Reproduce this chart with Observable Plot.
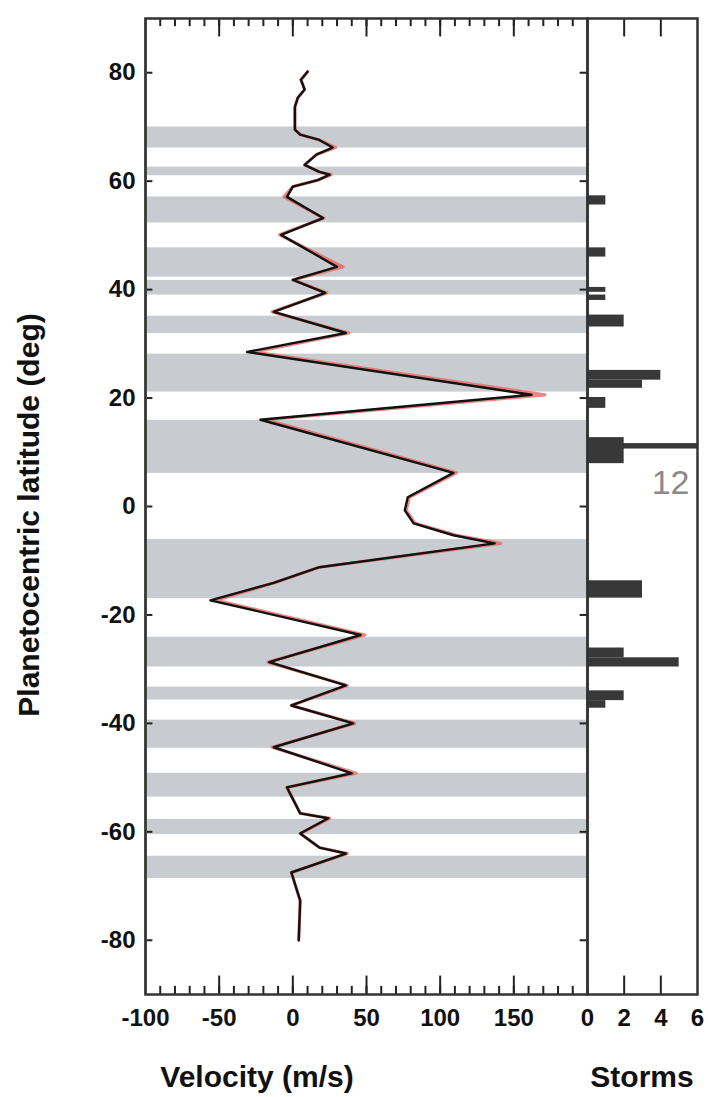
<!DOCTYPE html>
<html><head><meta charset="utf-8">
<script src="https://cdn.jsdelivr.net/npm/d3@7"></script>
<script src="https://cdn.jsdelivr.net/npm/@observablehq/plot@0.6"></script>
<style>
html,body{margin:0;padding:0;background:#fff;}
#wrap{position:relative;width:708px;height:1097px;overflow:hidden;background:#fff;font-family:"Liberation Sans",Arial,sans-serif;}
#wrap svg{position:absolute;left:0;top:0;}
.title{position:absolute;font-weight:bold;font-size:30px;line-height:30px;color:#111;white-space:nowrap;}
</style></head><body><div id="wrap"></div>
<script>
// ---- data ----
const profileLat = [80.2,78.7,76.9,75.4,73.7,69.5,68.6,67.6,66.2,64.9,63,61.7,61.2,60.2,59,57.1,53.2,50.1,44.2,41.8,39.4,35.9,32,28.5,20.6,16,6.2,1.7,-0.7,-3.1,-5.3,-6.8,-11.2,-14.1,-17.3,-23.7,-28.7,-33,-36.7,-40,-44.4,-49.2,-51.8,-56.6,-57.5,-60.3,-62.9,-64,-67.5,-72.7,-80];
const profileVel = [10,5.5,8,3.4,1.4,1.4,5,18,27,16,8,18,25,17,0,-4,20.5,-8,30,0,22,-13,36,-31,162,-22,109,78,76,82,109,137,18,-13,-56,46,-16,36,-1,41,-13,40,-4,5,24,5,18,36,-1,5,4];
const profileVelAlt = [10,5.5,8,3.4,1.4,1.4,5,18,29,16,8,18,26,17,0,-6,21,-9,34,0,23,-14,38,-26,171,-18,111,79,77,83,111,141,18,-13,-52,49,-17,37,-1,42,-14,43,-4,5,25,5,18,37,-1,5,4];

const beltNorth = [70,62.6,57.1,47.7,41.7,35.1,28.1,15.9,-6.1,-24.1,-33.3,-39.4,-49.2,-57.7,-64.5];
const beltSouth = [66.1,61.0,52.3,42.3,39.0,31.9,21.1,6.1,-17.0,-29.6,-35.7,-44.6,-53.6,-60.5,-68.6];

const stormLatTop    = [57.3,47.7,40.4,39.0,35.3,25.1,23.3,20.1,12.7,11.6,-13.7,-26.1,-27.9,-34.0,-35.8];
const stormLatBottom = [55.6,46.0,39.5,38.0,33.1,23.3,21.8,18.1,7.9,10.6,-16.9,-27.9,-29.6,-35.8,-37.2];
const stormCount     = [1,1,1,1,2,4,3,1,2,12,3,2,5,2,1];

const velocityTicks = [-100,-50,0,50,100,150];
const velocityMinorTicks = d3.range(-100, 201, 10);
const velocityMajorTicks = [-50,0,50,100,150];
const latTicks = [80,60,40,20,0,-20,-40,-60,-80];
const stormTicks = [0,2,4,6];
const stormInnerTicks = [2,4];

// ---- tables ----
const profile = profileLat.map((lat,i)=>({lat, v: profileVel[i]}));
const profileAlt = profileLat.map((lat,i)=>({lat, v: profileVelAlt[i]}));
const belts = beltNorth.map((n,i)=>({north:n, south: beltSouth[i]}));
const storms = stormCount.map((c,i)=>({top: stormLatTop[i], bottom: stormLatBottom[i], count: c}));
const overflow = storms.filter(d => d.count > 6);

const W = 708, H = 1097;
const style = {background: "transparent", fontFamily: "'Liberation Sans', Arial, sans-serif", fontSize: "24px", fontWeight: "bold", color: "#111", overflow: "visible"};
const fmt = d => String(d);

const A = Plot.plot({
  width: W, height: H, marginTop: 18, marginBottom: 103,
  marginLeft: 145, marginRight: 121, style,
  x: {domain: [-100, 200], label: null},
  y: {domain: [-90, 90], label: null},
  marks: [
    Plot.rect(belts, {y1: "south", y2: "north", fill: "#c8cbcf"}),
    Plot.line(profileAlt, {x: "v", y: "lat", stroke: "#e8685e", strokeWidth: 3.2, strokeOpacity: 0.8}),
    Plot.line(profile, {x: "v", y: "lat", stroke: "#111", strokeWidth: 2.4}),
    Plot.ruleX(velocityMinorTicks, {y1: 90, y2: 88.5, stroke: "#222", strokeWidth: 2}),
    Plot.ruleX(velocityMinorTicks, {y1: -90, y2: -88.5, stroke: "#222", strokeWidth: 2}),
    Plot.ruleX(velocityMajorTicks, {y1: 90, y2: 86.6, stroke: "#222", strokeWidth: 2}),
    Plot.ruleX(velocityMajorTicks, {y1: -90, y2: -86.6, stroke: "#222", strokeWidth: 2}),
    Plot.ruleY(latTicks, {x1: -100, x2: -95, stroke: "#222", strokeWidth: 2}),
    Plot.ruleY(latTicks, {x1: 195, x2: 200, stroke: "#222", strokeWidth: 2}),
    Plot.ruleX([-100], {stroke: "#999", strokeWidth: 3}),
    Plot.frame({stroke: "#333", strokeWidth: 2.5}),
    Plot.axisY(latTicks, {anchor: "left", tickSize: 0, tickPadding: 10, tickFormat: fmt, fontSize: 24, label: null}),
    Plot.axisX(velocityTicks, {anchor: "bottom", tickSize: 0, tickPadding: 14, tickFormat: fmt, fontSize: 24, label: null})
  ]
});

const B = Plot.plot({
  width: W, height: H, marginTop: 18, marginBottom: 103,
  marginLeft: 587, marginRight: 11, style,
  x: {domain: [0, 6], label: null},
  y: {domain: [-90, 90], axis: null, label: null},
  marks: [
    Plot.rect(storms, {x1: 0, x2: "count", y1: "bottom", y2: "top", fill: "#383838", clip: true}),
    Plot.text(overflow, {y: d => (d.top + d.bottom) / 2, text: d => String(d.count), frameAnchor: "right", textAnchor: "end", dx: -8, dy: 37, fill: "#8a8a8a", fontSize: 34, fontWeight: "normal"}),
    Plot.ruleX(stormInnerTicks, {y1: 90, y2: 86.6, stroke: "#222", strokeWidth: 2}),
    Plot.ruleX(stormInnerTicks, {y1: -90, y2: -86.6, stroke: "#222", strokeWidth: 2}),
    Plot.frame({stroke: "#333", strokeWidth: 2.5}),
    Plot.axisX(stormTicks, {anchor: "bottom", tickSize: 0, tickPadding: 14, tickFormat: fmt, fontSize: 24, label: null})
  ]
});

const wrap = document.getElementById("wrap");
wrap.appendChild(A);
wrap.appendChild(B);

function title(text, css) {
  const d = document.createElement("div");
  d.className = "title";
  d.textContent = text;
  Object.assign(d.style, css);
  wrap.appendChild(d);
}
title("Velocity (m/s)", {left: "257px", top: "1062px", transform: "translateX(-50%)"});
title("Storms", {left: "642px", top: "1062px", transform: "translateX(-50%)"});
title("Planetocentric latitude (deg)", {left: "29px", top: "515px", transform: "translate(-50%,-50%) rotate(-90deg)"});
</script></body></html>
